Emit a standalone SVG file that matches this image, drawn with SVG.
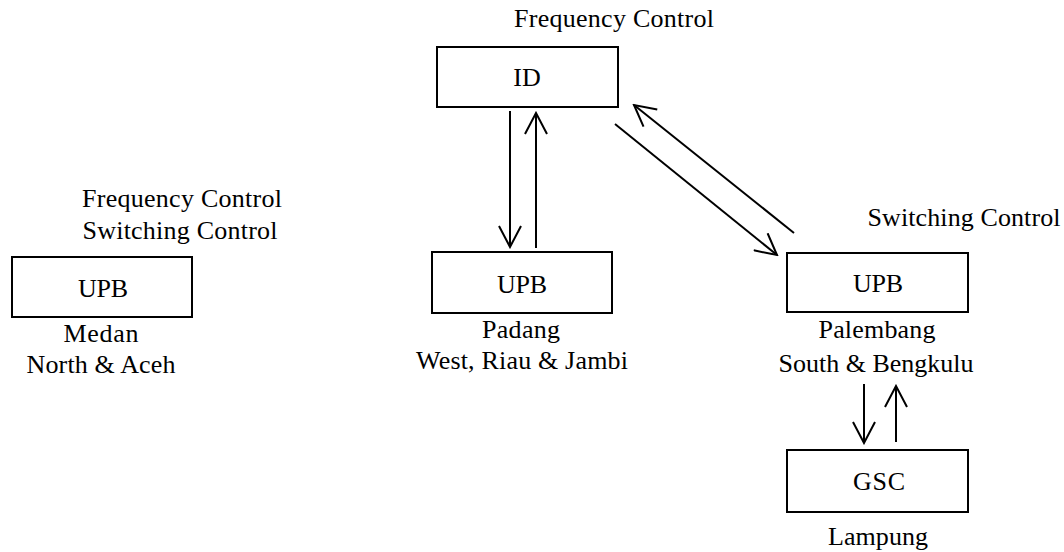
<svg xmlns="http://www.w3.org/2000/svg" width="1064" height="552" viewBox="0 0 1064 552">
<style>
text{font-family:"Liberation Serif","Times New Roman",serif;font-size:26px;fill:#000}
.c{text-anchor:middle}
.box{fill:#fff;stroke:#000;stroke-width:2}
line{stroke:#000;stroke-width:2}
</style>
<defs>
<marker id="ah" viewBox="0 0 24 24" refX="22" refY="12" markerWidth="24" markerHeight="24" markerUnits="userSpaceOnUse" orient="auto">
<path d="M1,1 L22,12 L1,23" fill="none" stroke="#000" stroke-width="2"/>
</marker>
</defs>
<rect width="1064" height="552" fill="#fff"/>
<g id="node-id">
<text class="c" x="614" y="27" textLength="200" lengthAdjust="spacing">Frequency Control</text>
<rect class="box" x="437" y="47" width="181" height="60"/>
<text class="c" x="527" y="86">ID</text>
</g>
<g id="node-medan">
<text class="c" x="182" y="207" textLength="200" lengthAdjust="spacing">Frequency Control</text>
<text class="c" x="180" y="239" textLength="195" lengthAdjust="spacing">Switching Control</text>
<rect class="box" x="12" y="257" width="180" height="60"/>
<text class="c" x="103" y="297" textLength="50" lengthAdjust="spacing">UPB</text>
<text class="c" x="101" y="342" textLength="75" lengthAdjust="spacing">Medan</text>
<text class="c" x="101" y="373" textLength="149" lengthAdjust="spacing">North &amp; Aceh</text>
</g>
<g id="node-padang">
<rect class="box" x="432" y="252" width="180" height="61"/>
<text class="c" x="522" y="293" textLength="50" lengthAdjust="spacing">UPB</text>
<text class="c" x="521" y="338" textLength="78" lengthAdjust="spacing">Padang</text>
<text class="c" x="522" y="369" textLength="212" lengthAdjust="spacing">West, Riau &amp; Jambi</text>
</g>
<g id="node-palembang">
<text class="c" x="964" y="226" textLength="193" lengthAdjust="spacing">Switching Control</text>
<rect class="box" x="787" y="253" width="181" height="59"/>
<text class="c" x="878" y="292" textLength="50" lengthAdjust="spacing">UPB</text>
<text class="c" x="877" y="338" textLength="117" lengthAdjust="spacing">Palembang</text>
<text class="c" x="876" y="372" textLength="195" lengthAdjust="spacing">South &amp; Bengkulu</text>
</g>
<g id="node-gsc">
<rect class="box" x="787" y="450" width="181" height="62"/>
<text class="c" x="879" y="490" textLength="52" lengthAdjust="spacing">GSC</text>
<text class="c" x="878" y="545" textLength="100" lengthAdjust="spacing">Lampung</text>
</g>
<g id="connectors">
<line x1="510" y1="111" x2="510" y2="247" marker-end="url(#ah)"/>
<line x1="536" y1="248" x2="536" y2="113" marker-end="url(#ah)"/>
<line x1="615" y1="124" x2="777" y2="255" marker-end="url(#ah)"/>
<line x1="794" y1="233" x2="634" y2="105" marker-end="url(#ah)"/>
<line x1="864" y1="384" x2="864" y2="443" marker-end="url(#ah)"/>
<line x1="896" y1="442" x2="896" y2="386" marker-end="url(#ah)"/>
</g>
</svg>
